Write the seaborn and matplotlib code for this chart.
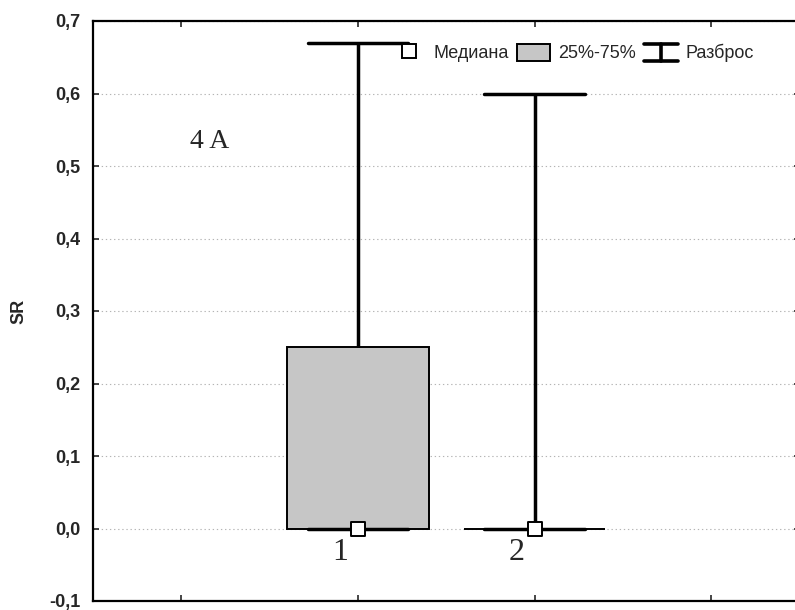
import matplotlib
matplotlib.use("Agg")
import matplotlib.pyplot as plt
import seaborn as sns
import pandas as pd
from matplotlib.lines import Line2D
from matplotlib.patches import Patch
from matplotlib.legend_handler import HandlerBase
from matplotlib.ticker import FuncFormatter, FixedLocator

# ---- data ----
groups = [1, 2]
group_labels = ["1", "2"]
q_min = [0.0, 0.0]
q1 = [0.0, 0.0]
medians = [0.0, 0.0]
q3 = [0.25, 0.0]
q_max = [0.67, 0.60]
y_ticks = [-0.1, 0.0, 0.1, 0.2, 0.3, 0.4, 0.5, 0.6, 0.7]
x_ticks = [0, 1, 2, 3]
legend_labels = ["Медиана", "25%-75%", "Разброс"]
panel_label = "4 A"
y_label = "SR"

# long table: five summary values per group (linear percentiles reproduce them exactly)
rows = []
for g, a, b, m, c, d in zip(groups, q_min, q1, medians, q3, q_max):
    for v in (a, b, m, c, d):
        rows.append({"group": g, "value": v})
df = pd.DataFrame(rows)
med_df = pd.DataFrame({"group": groups, "value": medians})

sns.set_style("ticks")
plt.rcParams["font.family"] = ["Liberation Sans", "DejaVu Sans"]

fig = plt.figure(figsize=(7.95, 6.10), dpi=100)
ax = fig.add_axes([93 / 795, 9 / 610, 706.8 / 795, 580 / 610])

box_color = "#c6c6c6"
sns.boxplot(
    data=df, x="group", y="value", native_scale=True, ax=ax,
    whis=(0, 100), width=0.8, color=box_color, saturation=1,
    linecolor="black", linewidth=1.4, fliersize=0,
    whiskerprops=dict(linewidth=2.5),
    capprops=dict(linewidth=2.5),
    medianprops=dict(linewidth=0),
    capwidths=0.57,
)
sns.scatterplot(
    data=med_df, x="group", y="value", ax=ax, marker="s", s=110,
    color="white", edgecolor="black", linewidth=1.4, zorder=6, legend=False,
)

ax.set_xlim(-0.5, 3.5)
ax.set_ylim(-0.1, 0.7)
ax.xaxis.set_major_locator(FixedLocator(x_ticks))
ax.set_xticklabels([])
ax.yaxis.set_major_locator(FixedLocator(y_ticks))
ax.yaxis.set_major_formatter(FuncFormatter(lambda v, p: f"{v:.1f}".replace(".", ",")))
ax.tick_params(axis="both", direction="in", length=4, width=1.2,
               top=True, right=True, labelsize=13, pad=9)
for lab in ax.get_yticklabels():
    lab.set_fontweight("bold")
ax.set_xlabel("")
ax.set_ylabel(y_label, fontsize=13, fontweight="bold", labelpad=16)

ax.set_axisbelow(True)
ax.yaxis.grid(True, linestyle=(0, (1.2, 2.5)), color="#b4b4b4", linewidth=0.8)
ax.xaxis.grid(False)
for side in ("left", "bottom", "top"):
    ax.spines[side].set_linewidth(1.6)
    ax.spines[side].set_color("black")
ax.spines["right"].set_visible(False)

# category numbers under the boxes and panel label
for g, lab in zip(groups, group_labels):
    ax.text(g - 0.1, -0.033, lab, family=["Liberation Serif", "DejaVu Serif"],
            fontsize=23, ha="center", va="center")
ax.text(0.16, 0.534, panel_label, family=["Liberation Serif", "DejaVu Serif"],
        fontsize=20, ha="center", va="center")


class IBeamHandler(HandlerBase):
    def create_artists(self, legend, orig_handle, xdescent, ydescent,
                       width, height, fontsize, trans):
        x0 = -xdescent + 0.0 * width
        x1 = -xdescent + 1.0 * width
        y0 = -ydescent
        y1 = -ydescent + height
        cx = -xdescent + width / 2
        arts = [Line2D([x0, x1], [y0, y0]), Line2D([x0, x1], [y1, y1]),
                Line2D([cx, cx], [y0, y1])]
        for a in arts:
            a.set_color("black")
            a.set_linewidth(2.6)
            a.set_solid_capstyle("round")
            a.set_transform(trans)
        return arts


h_med = Line2D([], [], marker="s", linestyle="none", markersize=10,
               markerfacecolor="white", markeredgecolor="black", markeredgewidth=1.4)
h_box = Patch(facecolor=box_color, edgecolor="black", linewidth=1.4)
h_rng = object()
fig.legend([h_med, h_box, h_rng], legend_labels, ncol=3,
           handler_map={object: IBeamHandler()},
           loc="center left", bbox_to_anchor=(392 / 795, (610 - 53) / 610),
           frameon=False, fontsize=13, handlelength=1.85, handleheight=1.1,
           handletextpad=0.45, columnspacing=0.45, borderpad=0, borderaxespad=0)

fig.savefig("out.png", dpi=100)
